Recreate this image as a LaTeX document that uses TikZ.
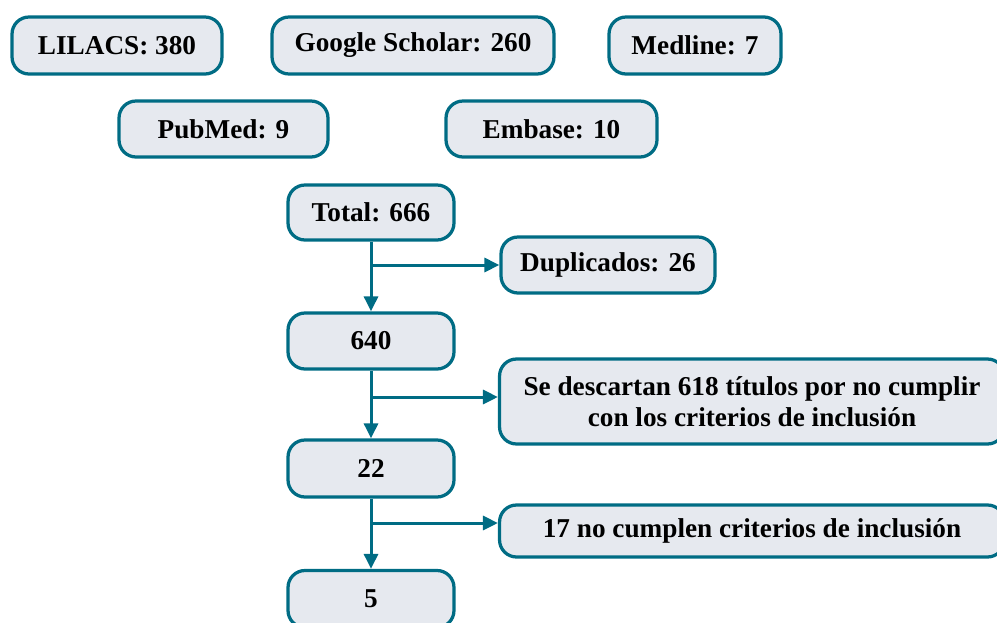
\documentclass[tikz,border=0pt]{standalone}
\usepackage{fontspec}
\setmainfont{Liberation Serif}
\usetikzlibrary{arrows.meta}
\definecolor{teal1}{RGB}{0,108,132}
\definecolor{boxfill}{RGB}{230,233,239}
\tikzstyle{bx}=[draw=teal1, fill=boxfill, line width=0.065cm, rounded corners=0.34cm, inner sep=0, align=center, font=\fontsize{15.5}{17.5}\selectfont\bfseries]
\tikzstyle{arr}=[draw=teal1, line width=0.06cm, -{Triangle[length=0.3cm,width=0.28cm]}]

\begin{document}
\begin{tikzpicture}[x=0.02cm,y=-0.02cm]
\useasboundingbox (0,0) rectangle (997,622);
% bases de datos
\node[bx, minimum width=4.2cm, minimum height=1.14cm] (lil) at (117,45.5) {LILACS: 380};
\node[bx, minimum width=5.64cm, minimum height=1.14cm] (gs) at (413,45.5) {Google Scholar: 260};
\node[bx, minimum width=3.44cm, minimum height=1.14cm] (med) at (695,45.5) {Medline: 7};
\node[bx, minimum width=4.18cm, minimum height=1.12cm] (pub) at (223.5,129) {PubMed: 9};
\node[bx, minimum width=4.22cm, minimum height=1.12cm] (emb) at (551.5,129) {Embase: 10};
% flujo
\node[bx, minimum width=3.32cm, minimum height=1.1cm] (tot) at (371,212.5) {Total: 666};
\node[bx, minimum width=4.28cm, minimum height=1.12cm] (dup) at (608,265) {Duplicados: 26};
\node[bx, minimum width=3.32cm, minimum height=1.12cm] (n640) at (371,341) {640};
\node[bx, minimum width=10.1cm, minimum height=1.7cm] (desc) at (752,401.5) {Se descartan 618 títulos por no cumplir\\con los criterios de inclusión};
\node[bx, minimum width=3.32cm, minimum height=1.14cm] (n22) at (371,468.5) {22};
\node[bx, minimum width=10.1cm, minimum height=1.04cm] (excl) at (752,531) {17 no cumplen criterios de inclusión};
\node[bx, minimum width=3.32cm, minimum height=1.14cm] (n5) at (371,599) {5};
\coordinate (c1) at (371,265);
\coordinate (c2) at (371,397);
\coordinate (c3) at (371,523);
\draw[arr] (tot) -- (n640);
\draw[arr] (c1) -- (dup.west);
\draw[arr] (n640) -- (n22);
\draw[arr] (c2) -- (desc.west |- c2);
\draw[arr] (n22) -- (n5);
\draw[arr] (c3) -- (excl.west |- c3);
\end{tikzpicture}
\end{document}
